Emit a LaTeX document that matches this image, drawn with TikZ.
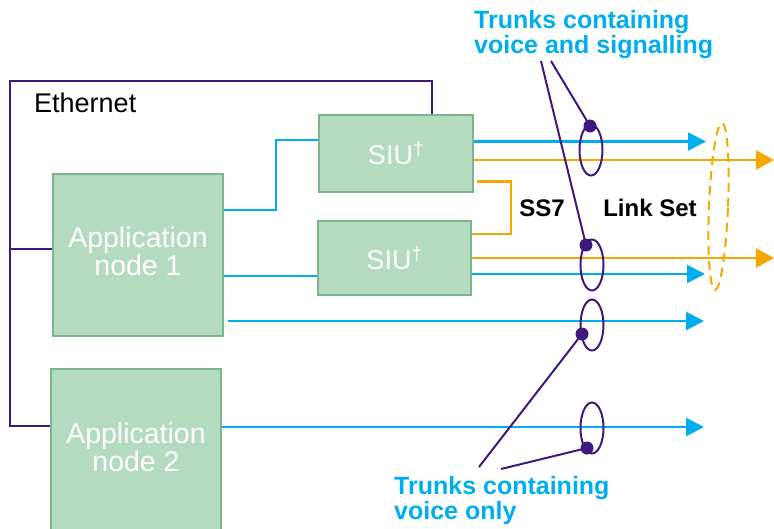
\documentclass[tikz,border=0pt]{standalone}
\usepackage{fontspec}
\setmainfont{Liberation Sans}
\usetikzlibrary{arrows.meta,calc,shapes.geometric}

\definecolor{trunkblue}{HTML}{00AEEF}
\definecolor{sigorange}{HTML}{F4A800}
\definecolor{ethpurple}{HTML}{3F1A7D}
\definecolor{boxfill}{HTML}{B4DBBF}
\definecolor{boxline}{HTML}{7AB58B}

\tikzset{
  unit/.style={draw=boxline, line width=2pt, fill=boxfill, inner sep=0pt,
    text=white, align=center, font=\fontsize{27}{28}\selectfont},
  unittext/.style={text=white, align=center, inner sep=0pt,
    font=\fontsize{28.5}{28}\selectfont, yshift=4pt},
  eth/.style={draw=ethpurple, line width=2pt},
  voice/.style={draw=trunkblue, line width=2.2pt},
  voicearrow/.style={voice, -{Triangle[length=18pt,width=18pt]}},
  sig/.style={draw=sigorange, line width=2.4pt},
  sigarrow/.style={sig, -{Triangle[length=18pt,width=19pt]}},
  trunkring/.style={draw=ethpurple, line width=2pt, ellipse, inner sep=0pt,
    minimum width=23pt, minimum height=51pt},
  pin/.style={circle, fill=ethpurple, inner sep=0pt, minimum size=13pt},
  pointer/.style={draw=ethpurple, line width=2pt},
  bluelabel/.style={text=trunkblue, font=\fontsize{25}{25}\selectfont\bfseries,
    align=left, inner sep=0pt, anchor=north west},
  blacklabel/.style={font=\fontsize{24}{26}\selectfont\bfseries, inner sep=0pt}
}

\begin{document}
\begin{tikzpicture}[x=1pt,y=-1pt]
\useasboundingbox (0,0) rectangle (774,528);

% processing units
\node[unit, minimum width=170pt, minimum height=162pt,
  label={[unittext]center:Application\\node 1}] (app1) at (138,255) {};
\node[unit, minimum width=170pt, minimum height=162pt,
  label={[unittext, yshift=-1pt]center:Application\\node 2}] (app2) at (136,450) {};
\node[unit, minimum width=154pt, minimum height=77pt] (siu1) at (396,153.5)
  {SIU\textsuperscript{\dag}};
\node[unit, minimum width=153pt, minimum height=74pt] (siu2) at (394.5,258)
  {SIU\textsuperscript{\dag}};

% Ethernet backbone
\coordinate (ethcorner) at (10,81);
\draw[eth] ($(siu1.north)+(36,0)$) |- (ethcorner) |- ($(app2.west)+(0,-24)$);
\draw[eth] (ethcorner |- 0,249) -- ($(app1.west)+(0,-6)$);
\node[font=\fontsize{27}{28}\selectfont, anchor=west, inner sep=0pt] (ethlabel) at (34,103) {Ethernet};

% voice trunks
\coordinate (v1) at (706,141.5);
\coordinate (v2) at (705,274);
\coordinate (v3) at (704,321);
\coordinate (v4) at (704,427);
\draw[voice] ($(app1.east)+(0,-45)$) -- ++(52,0) |- ($(siu1.west)+(0,-13.5)$);
\draw[voice] ($(app1.east)+(0,21)$) -- ($(siu2.west)+(0,18)$);
\draw[voicearrow] ($(siu1.east)+(0,-12)$) -- (v1);
\draw[voicearrow] ($(siu2.east)+(0,16)$) -- (v2);
\draw[voicearrow] ($(app1.east)+(4,66)$) -- (v3);
\draw[voicearrow] ($(app2.east)+(0,-23)$) -- (v4);

% SS7 signalling links
\coordinate (s1) at (774,160);
\coordinate (s2) at (774,258);
\draw[sigarrow] ($(siu1.east)+(0,6.5)$) -- (s1);
\draw[sigarrow] (siu2.east) -- (s2);
\draw[sig] ($(siu1.east)+(3,28)$) -- (511,181.5) |- ($(siu2.east)+(0,-24)$);
\node[blacklabel] (ss7) at (542,208) {SS7};
\node[blacklabel] (linkset) at (650,208) {Link Set};
\node[draw=sigorange, line width=2pt, dash pattern=on 9pt off 6pt, ellipse,
  inner sep=0pt, minimum width=19pt, minimum height=167pt, rotate=-2.4] (lset) at (718.5,206.5) {};

% trunk groups
\node[trunkring] (r1) at (591,150) {};
\node[trunkring] (r2) at (592,265) {};
\node[trunkring] (r3) at (592,325) {};
\node[trunkring] (r4) at (592,428) {};
\node[pin] (p1) at (590,126) {};
\node[pin] (p2) at (586,245) {};
\node[pin] (p3) at (582,334) {};
\node[pin] (p4) at (587,448) {};

% callouts
\node[bluelabel] (toplabel) at (474,10) {Trunks containing\\voice and signalling};
\node[bluelabel] (botlabel) at (394,476) {Trunks containing\\voice only};
\coordinate (t1) at (541,61);
\coordinate (t2) at (551,61);
\coordinate (b1) at (479,467);
\coordinate (b2) at (501,469);
\draw[pointer] (t1) -- (p2.center);
\draw[pointer] (t2) -- (p1.center);
\draw[pointer] (b1) -- (p3.center);
\draw[pointer] (b2) -- (p4.center);
\end{tikzpicture}
\end{document}
